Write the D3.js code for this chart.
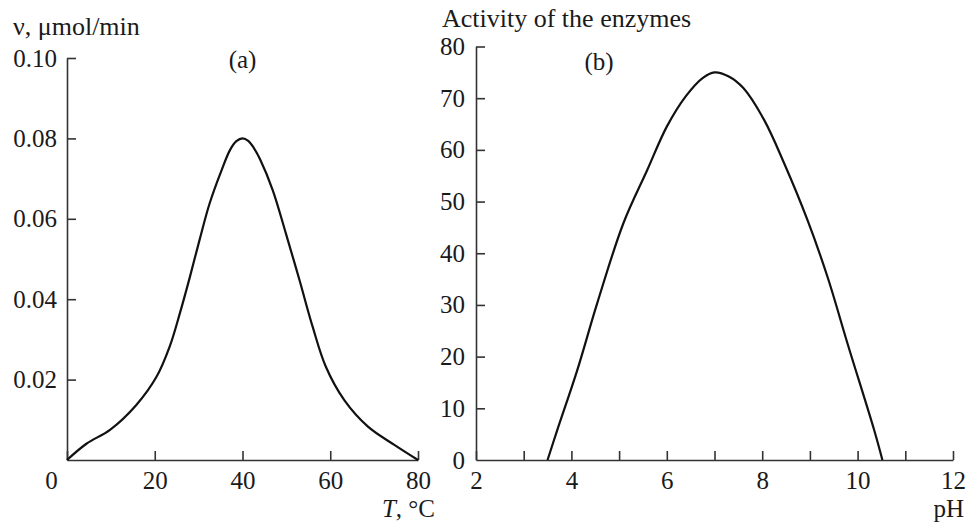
<!DOCTYPE html>
<html>
<head>
<meta charset="utf-8">
<script src="https://cdn.jsdelivr.net/npm/d3@7"></script>
<style>
  body { margin: 0; background: #fff; }
  svg text { font-family: "Liberation Serif", "Times New Roman", serif; fill: #1a1a1a; }
</style>
</head>
<body>
<svg id="chart" width="966" height="525"></svg>
<script>
// (a) rate vs temperature
const tempT = [0, 4.5, 9.8, 15.8, 20.4, 23.4, 25.7, 28, 30.2, 32.5, 35.2, 37.2, 38.6, 40, 41.3, 42.6, 44, 46.9, 49.9, 53, 56, 59, 63.2, 68.6, 74.7, 80];
const tempV = [0, 0.0041, 0.0075, 0.0137, 0.0207, 0.0282, 0.0364, 0.0455, 0.0547, 0.0638, 0.072, 0.0772, 0.0793, 0.080, 0.0794, 0.0776, 0.0748, 0.0671, 0.0563, 0.0447, 0.0331, 0.0232, 0.0149, 0.0083, 0.0037, 0];
const tempXTicks = [0, 20, 40, 60, 80];
const tempYTicks = [0.02, 0.04, 0.06, 0.08, 0.10];

// (b) activity vs pH
const phX = [3.5, 3.7, 4.12, 4.54, 5.09, 5.59, 6.0, 6.4, 6.75, 7.0, 7.3, 7.6, 8.04, 8.46, 8.95, 9.37, 9.79, 10.35, 10.52];
const phA = [0, 5.7, 17.3, 30.3, 45.8, 56.1, 64.5, 70.4, 73.9, 75, 74.2, 72.0, 65.8, 57.4, 46.4, 35.4, 22.5, 5.7, 0];
const phXTicks = d3.range(2, 13);
const phYTicks = [0, 10, 20, 30, 40, 50, 60, 70, 80];

const svg = d3.select("#chart");
const fs = 25;
const axisColor = "#333";

function styleAxis(sel) {
  sel.select(".domain").attr("stroke", axisColor).attr("stroke-width", 1.6);
  sel.selectAll(".tick line").attr("stroke", axisColor).attr("stroke-width", 1.6);
  sel.selectAll(".tick text").attr("font-size", fs).attr("font-family", null).attr("fill", "#1a1a1a");
}

// ---- panel (a)
const xa = d3.scaleLinear().domain([0, 80]).range([67, 418]);
const ya = d3.scaleLinear().domain([0, 0.10]).range([460, 58]);

svg.append("g")
  .attr("transform", `translate(0,${ya(0)})`)
  .call(d3.axisBottom(xa).tickValues(tempXTicks).tickSizeInner(-9).tickSizeOuter(0).tickPadding(11))
  .call(styleAxis)
  .call(g => g.selectAll(".tick").filter(d => d === 0).select("text").attr("dx", -16));

svg.append("g")
  .attr("transform", `translate(${xa(0)},0)`)
  .call(d3.axisLeft(ya).tickValues(tempYTicks).tickFormat(d3.format(".2f")).tickSizeInner(-9).tickSizeOuter(0).tickPadding(10))
  .call(styleAxis);

const lineA = d3.line()
  .x((d, i) => xa(tempT[i]))
  .y(d => ya(d))
  .curve(d3.curveCatmullRom.alpha(0.5));

svg.append("path")
  .datum(tempV)
  .attr("fill", "none")
  .attr("stroke", "#111")
  .attr("stroke-width", 2.2)
  .attr("d", lineA);

svg.append("text").attr("x", 13).attr("y", 35).attr("font-size", 26).text("ν, μmol/min");
svg.append("text").attr("x", xa(40)).attr("y", 68).attr("text-anchor", "middle").attr("font-size", fs).text("(a)");
svg.append("text").attr("x", 435).attr("y", 517).attr("text-anchor", "end").attr("font-size", fs)
  .call(t => {
    t.append("tspan").attr("font-style", "italic").text("T");
    t.append("tspan").text(", °C");
  });

// ---- panel (b)
const xb = d3.scaleLinear().domain([2, 12]).range([476, 953]);
const yb = d3.scaleLinear().domain([0, 80]).range([460, 46.5]);

svg.append("g")
  .attr("transform", `translate(0,${yb(0)})`)
  .call(d3.axisBottom(xb).tickValues(phXTicks).tickFormat(d => d % 2 === 0 ? d : "").tickSizeInner(-9).tickSizeOuter(0).tickPadding(11))
  .call(styleAxis);

svg.append("g")
  .attr("transform", `translate(${xb(2)},0)`)
  .call(d3.axisLeft(yb).tickValues(phYTicks).tickSizeInner(-9).tickSizeOuter(0).tickPadding(11))
  .call(styleAxis)
  .call(g => g.selectAll(".tick").filter(d => d === 0).select("line").remove());

const lineB = d3.line()
  .x((d, i) => xb(phX[i]))
  .y(d => yb(d))
  .curve(d3.curveCatmullRom.alpha(0.5));

svg.append("path")
  .datum(phA)
  .attr("fill", "none")
  .attr("stroke", "#111")
  .attr("stroke-width", 2.2)
  .attr("d", lineB);

svg.append("text").attr("x", 442).attr("y", 27).attr("font-size", 26).text("Activity of the enzymes");
svg.append("text").attr("x", 599).attr("y", 70).attr("text-anchor", "middle").attr("font-size", fs).text("(b)");
svg.append("text").attr("x", 964).attr("y", 517).attr("text-anchor", "end").attr("font-size", fs).text("pH");
</script>
</body>
</html>
